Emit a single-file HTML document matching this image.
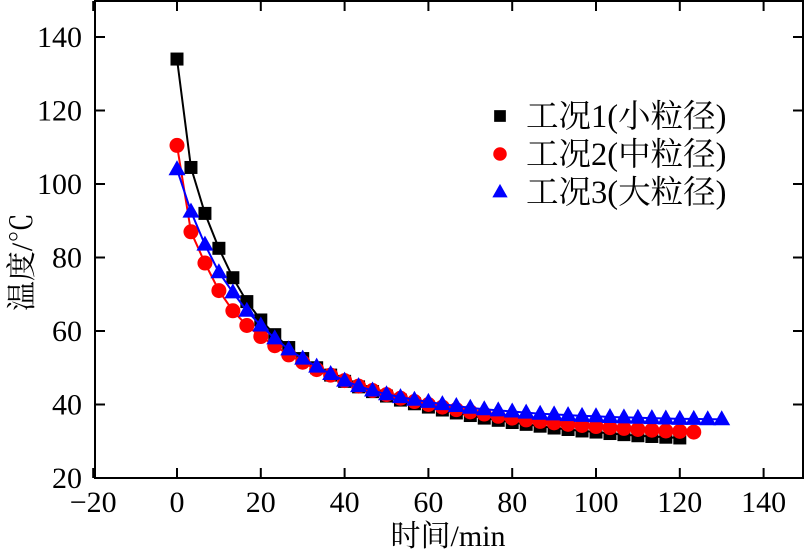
<!DOCTYPE html>
<html><head><meta charset="utf-8"><style>
body{margin:0;background:#fff;}
svg text{font-family:"Liberation Serif","Noto Serif CJK SC",serif;}
</style></head><body>
<svg id="chart" width="805" height="554" xmlns="http://www.w3.org/2000/svg"></svg>
<script>
const xTicks=[-20,0,20,40,60,80,100,120,140];
const yTicks=[20,40,60,80,100,120,140];
const step=10/3;
const sq=[134,104.5,92,82.5,74.5,68,63,59,55.5,52.5,50,48,46.3,44.8,43.5,42.3,41.2,40.2,39.3,38.5,37.7,37,36.3,35.7,35.1,34.6,34.1,33.6,33.2,32.8,32.5,32.1,31.8,31.5,31.3,31.1,30.9];
const ci=[110.5,87,78.5,71,65.5,61.5,58.5,56,53.5,51.5,49.5,48,46.5,45,43.8,42.7,41.7,40.8,40,39.3,38.6,38,37.4,36.8,36.3,35.8,35.4,35,34.6,34.3,34,33.7,33.5,33.2,33,32.8,32.7,32.5];
const tr=[104,92.5,83.5,76,70.5,65.5,61.5,58,55,52.5,50.3,48.3,46.5,45,43.8,42.8,42,41.3,40.7,40.1,39.6,39.1,38.7,38.4,38.1,37.8,37.5,37.3,37.1,36.9,36.8,36.6,36.5,36.4,36.3,36.2,36.1,36.1,36,36];
const names=["工况1(小粒径)","工况2(中粒径)","工况3(大粒径)"];
const NS="http://www.w3.org/2000/svg";
const svg=document.getElementById('chart');
const X=v=>177+(v)*4.19, Y=v=>37+(140-v)*3.675;
const L=95,R=803,T=1,B=478;
function el(t,a,p){const e=document.createElementNS(NS,t);for(const k in a)e.setAttribute(k,a[k]);(p||svg).appendChild(e);return e;}
const frame=el('rect',{x:L,y:T,width:R-L,height:B-T,fill:'none',stroke:'#000','stroke-width':2});


xTicks.forEach(v=>{const x=X(v);
 el('line',{x1:x,x2:x,y1:B,y2:B-10,stroke:'#000','stroke-width':2});
 el('line',{x1:x,x2:x,y1:T,y2:T+10,stroke:'#000','stroke-width':2});
 const t=el('text',{x:x,y:512,'font-size':30,'text-anchor':'middle'});t.textContent=(v<0?'−'+(-v):v);
 
 });
yTicks.forEach(v=>{const y=Y(v);
 el('line',{x1:L,x2:L+10,y1:y,y2:y,stroke:'#000','stroke-width':2});
 el('line',{x1:R,x2:R-10,y1:y,y2:y,stroke:'#000','stroke-width':2});
 const t=el('text',{x:82,y:y+10,'font-size':30,'text-anchor':'end'});t.textContent=v;
 
 });
const xt=el('text',{x:448,y:546,'font-size':30,'text-anchor':'middle'});xt.textContent='时间/min';


const yt=el('text',{x:0,y:0,'font-size':30,'text-anchor':'middle',transform:'translate(32,262) rotate(-90)'});yt.textContent='温度/℃';


function marker(kind,x,y,col,g,s){s=s||1;
 if(kind==0) return el('rect',{x:x-6.5*s,y:y-6.5*s,width:13*s,height:13*s,fill:col},g);
 if(kind==1) return el('circle',{cx:x,cy:y,r:7.5*s,fill:col},g);
 return el('polygon',{points:`${x},${y-9*s} ${x-8.5*s},${y+6*s} ${x+8.5*s},${y+6*s}`,fill:col},g);
}
const series=[sq,ci,tr], cols=['#000','#f00','#00f'];
series.forEach((d,k)=>{
 const g=el('g',{});
 
 
 el('polyline',{points:d.map((v,i)=>X(i*step)+','+Y(v)).join(' '),fill:'none',stroke:cols[k],'stroke-width':2},g);
 d.forEach((v,i)=>{const m=marker(k,X(i*step),Y(v),cols[k],g);
  
  });
 const ly=116+k*38;
 const lg=el('g',{});
 
 
 marker(k,500,ly,cols[k],lg,0.9);
 const t=el('text',{x:526,y:ly+11,'font-size':32.5},lg);t.textContent=names[k];
});
</script>
</body></html>
